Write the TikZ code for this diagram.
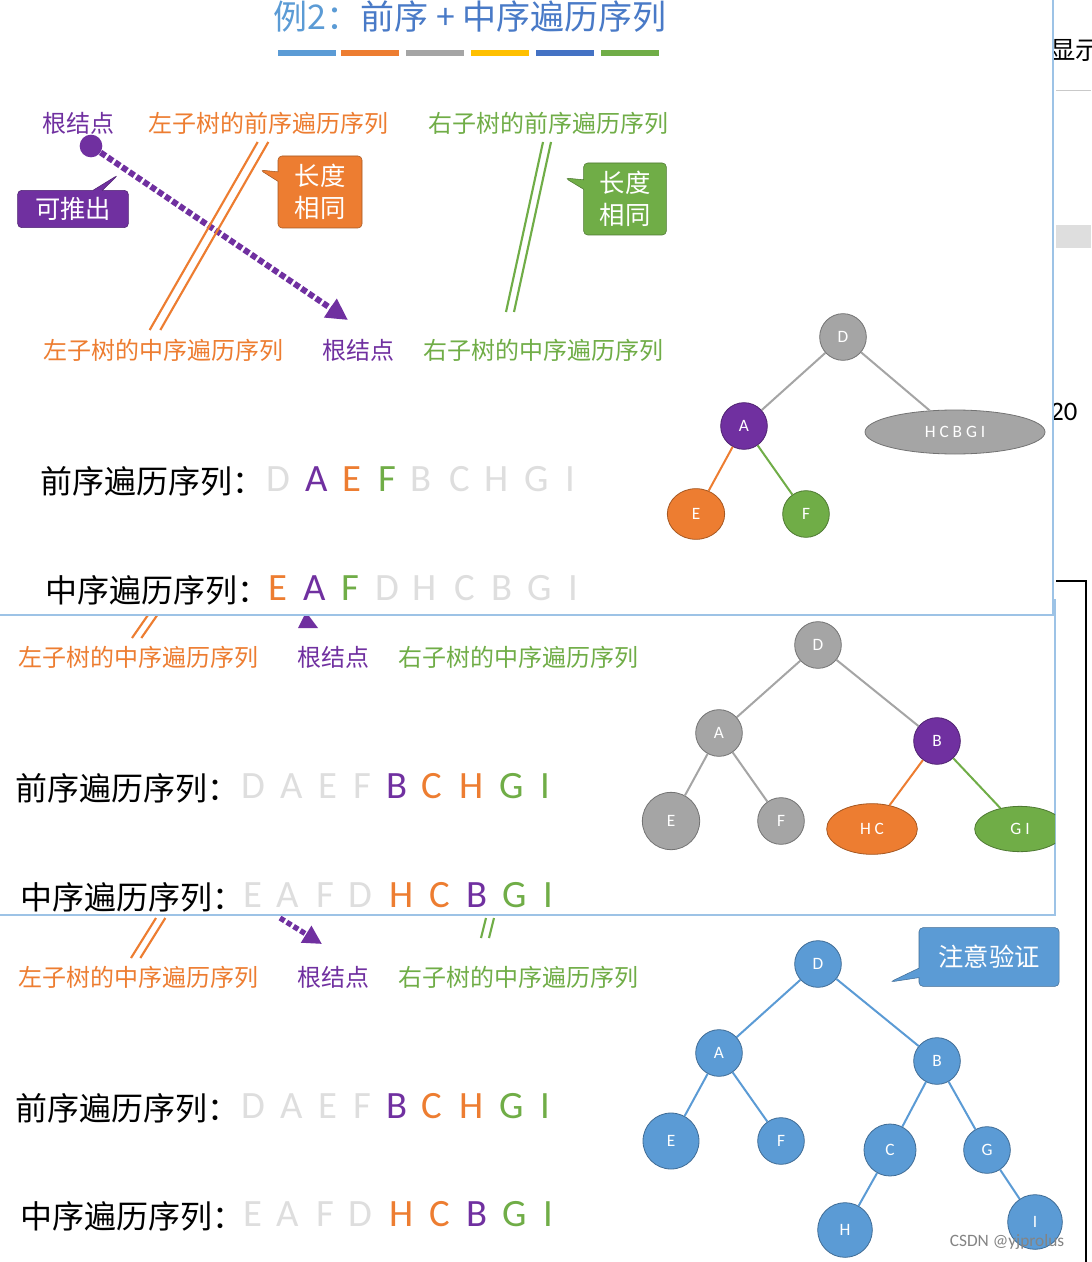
\documentclass[tikz,border=0pt]{standalone}
\usepackage{fontspec}
\setmainfont{Carlito}
\newfontfamily\cjk{Noto Sans CJK SC}
\usetikzlibrary{shapes.geometric,shapes.callouts,arrows.meta}
\definecolor{cpur}{RGB}{112,48,160}
\definecolor{cora}{RGB}{237,125,49}
\definecolor{cgre}{RGB}{112,173,71}
\definecolor{cgry}{RGB}{165,165,165}
\definecolor{clgt}{RGB}{222,222,222}
\definecolor{cblu}{RGB}{91,155,213}
\definecolor{cdbl}{RGB}{68,114,196}
\definecolor{cyel}{RGB}{255,192,0}
\tikzset{
 lab/.style={font=\cjk\fontsize{18}{20}\selectfont,inner sep=0},
 seqt/.style={font=\cjk\fontsize{24}{26}\selectfont,inner sep=0,anchor=west},
 let/.style={font=\fontsize{29}{30}\selectfont,inner sep=0},
 tn/.style={circle,minimum size=35pt,inner sep=0,font=\fontsize{13}{14}\selectfont,text=white,draw=#1!70!black,fill=#1,line width=0.6pt},
 en/.style={ellipse,inner sep=0,font=\fontsize{13}{14}\selectfont,text=white,draw=#1!70!black,fill=#1,line width=0.6pt},
 tedge/.style={line width=1.5pt},
 call/.style={rectangle callout,rounded corners=3pt,fill=#1,draw=#1!70!black,text=white,align=center,font=\cjk\fontsize{19}{21}\selectfont,inner sep=0},
 panel/.style={fill=white,draw=cblu!60,line width=1pt},
 dl/.style={line width=1.6pt},
}
\begin{document}
\begin{tikzpicture}[x=0.75pt,y=-0.75pt]
\useasboundingbox (0,0) rectangle (1091,1262);
\fill[white] (0,0) rectangle (1091,1262);
% background window on the right
\begin{scope}
\clip (1040,0) rectangle (1091,600);
\node[font=\cjk\fontsize{19}{20}\selectfont,anchor=west,inner sep=0] (bgA) at (1050,50) {显示};
\end{scope}
\draw[cgry!60] (1056,90) -- (1091,90);
\fill[clgt] (1056,225) rectangle (1091,248);
\node[font=\fontsize{20}{20}\selectfont,anchor=west,inner sep=0] (bgB) at (1050,412) {20};
\draw[line width=1.5pt] (1056,581) -- (1086,581) -- (1086,1262);
% ===== panel 3 (bottom) =====
\node[lab,text=cora] (p3l1) at (138,977) {左子树的中序遍历序列};
\node[lab,text=cpur] (p3l2) at (333,977) {根结点};
\node[lab,text=cgre] (p3l3) at (518,977) {右子树的中序遍历序列};
\coordinate (p3a) at (160,918); \coordinate (p3b) at (135,958);
\draw[cora,dl] ([xshift=-3]p3a) -- ([xshift=-3]p3b); \draw[cora,dl] ([xshift=4]p3a) -- ([xshift=4]p3b);
\coordinate (p3c) at (490,918); \coordinate (p3d) at (485,938);
\draw[cgre,dl] ([xshift=-3]p3c) -- ([xshift=-3]p3d); \draw[cgre,dl] ([xshift=3]p3c) -- ([xshift=3]p3d);
\coordinate (p3e) at (280,918); \coordinate (p3f) at (322,944);
\draw[cpur,line width=4pt,dotted,-{Triangle[length=14pt,width=14pt]}] (p3e) -- (p3f);
\node[seqt] (p3s1) at (15,1108) {前序遍历序列：};
\node[seqt] (p3s2) at (20,1216) {中序遍历序列：};
\foreach \x/\c/\t [count=\i] in {253/clgt/D,292/clgt/A,328/clgt/E,362/clgt/F,397/cpur/B,432/cora/C,472/cora/H,512/cgre/G,545/cgre/I}
  \node[let,text=\c] (p3p\i) at (\x,1106) {\t};
\foreach \x/\c/\t [count=\i] in {253/clgt/E,288/clgt/A,325/clgt/F,360/clgt/D,402/cora/H,440/cora/C,477/cpur/B,515/cgre/G,548/cgre/I}
  \node[let,text=\c] (p3m\i) at (\x,1214) {\t};
\node[tn=cblu] (bD) at (818,964) {D};
\node[tn=cblu] (bA) at (719,1053) {A};
\node[tn=cblu] (bB) at (937,1061) {B};
\node[tn=cblu,minimum size=42pt] (bE) at (671,1141) {E};
\node[tn=cblu] (bF) at (781,1141) {F};
\node[tn=cblu,minimum size=39pt] (bC) at (890,1150) {C};
\node[tn=cblu] (bG) at (987,1150) {G};
\node[tn=cblu,minimum size=41pt] (bH) at (845,1230) {H};
\node[tn=cblu,minimum size=41pt] (bI) at (1035,1222) {I};
\foreach \a/\b in {bD/bA,bD/bB,bA/bE,bA/bF,bB/bC,bB/bG,bC/bH,bG/bI}
  \draw[tedge,cblu] (\a) -- (\b);
\node[call=cblu,minimum width=105pt,minimum height=44pt,callout absolute pointer={(890,982)}] (chk) at (989,957) {注意验证};
\node[text=cgry!80!black,font=\fontsize{13}{14}\selectfont,inner sep=0] (wm) at (1007,1242) {CSDN @yjprolus};
% ===== panel 2 =====
\draw[panel] (-2,600) rectangle (1055,915);
\node[lab,text=cora] (p2l1) at (138,657) {左子树的中序遍历序列};
\node[lab,text=cpur] (p2l2) at (333,657) {根结点};
\node[lab,text=cgre] (p2l3) at (518,657) {右子树的中序遍历序列};
\coordinate (p2a) at (152,615); \coordinate (p2b) at (136,638);
\draw[cora,dl] ([xshift=-3]p2a) -- ([xshift=-3]p2b); \draw[cora,dl] ([xshift=4]p2a) -- ([xshift=4]p2b);
\fill[cpur] (298,628) -- (318,628) -- (306,612) -- cycle;
\node[seqt] (p2s1) at (15,788) {前序遍历序列：};
\node[seqt] (p2s2) at (20,897) {中序遍历序列：};
\foreach \x/\c/\t [count=\i] in {253/clgt/D,292/clgt/A,328/clgt/E,362/clgt/F,397/cpur/B,432/cora/C,472/cora/H,512/cgre/G,545/cgre/I}
  \node[let,text=\c] (p2p\i) at (\x,786) {\t};
\foreach \x/\c/\t [count=\i] in {253/clgt/E,288/clgt/A,325/clgt/F,360/clgt/D,402/cora/H,440/cora/C,477/cpur/B,515/cgre/G,548/cgre/I}
  \node[let,text=\c] (p2m\i) at (\x,895) {\t};
\node[tn=cgry] (gD) at (818,645) {D};
\node[tn=cgry] (gA) at (719,733) {A};
\node[tn=cpur] (gB) at (937,741) {B};
\node[tn=cgry,minimum size=43pt] (gE) at (671,821) {E};
\node[tn=cgry] (gF) at (781,821) {F};
\node[en=cora,minimum width=68pt,minimum height=38pt] (gHC) at (872,829) {H C};
\begin{scope}
\clip (0,600) rectangle (1055,915);
\node[en=cgre,minimum width=68pt,minimum height=34pt] (gGI) at (1020,829) {G I};
\end{scope}
\foreach \a/\b in {gD/gA,gD/gB,gA/gE,gA/gF} \draw[tedge,cgry] (\a) -- (\b);
\draw[tedge,cora] (gB) -- (gHC);
\draw[tedge,cgre] (gB) -- (gGI);
% ===== panel 1 =====
\draw[panel] (-2,-2) rectangle (1053,615);
\node[font=\cjk\fontsize{25.5}{27}\selectfont,text=cblu,inner sep=0] (title) at (470,17) {例2：\textcolor{cdbl!80!cblu}{前序 + 中序遍历序列}};
\foreach \x/\c [count=\i] in {278/cblu,341/cora,406/cgry,471/cyel,536/cdbl,601/cgre}
  \fill[\c] (\x,50) rectangle ++(58,6);
\node[lab,text=cpur] (r1) at (78,123) {根结点};
\node[lab,text=cora] (r2) at (268,123) {左子树的前序遍历序列};
\node[lab,text=cgre] (r3) at (548,123) {右子树的前序遍历序列};
\node[lab,text=cora] (r4) at (163,350) {左子树的中序遍历序列};
\node[lab,text=cpur] (r5) at (358,350) {根结点};
\node[lab,text=cgre] (r6) at (543,350) {右子树的中序遍历序列};
\node[circle,fill=cpur,minimum size=17pt,inner sep=0] (dot) at (91,146) {};
\coordinate (arrEnd) at (348,320);
\draw[cpur,line width=4.5pt,dotted,-{Triangle[length=16pt,width=16pt]}] (dot) -- (arrEnd);
\coordinate (o1) at (263,142); \coordinate (o2) at (155,330);
\draw[cora,dl] ([xshift=-4]o1) -- ([xshift=-4]o2); \draw[cora,dl] ([xshift=4]o1) -- ([xshift=4]o2);
\coordinate (g1) at (547,142); \coordinate (g2) at (510,312);
\draw[cgre,dl] ([xshift=-3]g1) -- ([xshift=-3]g2); \draw[cgre,dl] ([xshift=3]g1) -- ([xshift=3]g2);
\node[call=cpur,minimum width=83pt,minimum height=28pt,callout absolute pointer={(118,175)}] (c1) at (73,209) {可推出};
\node[call=cora,minimum width=63pt,minimum height=54pt,callout absolute pointer={(260,170)},font=\cjk\fontsize{19}{24}\selectfont] (c2) at (320,192) {长度\\相同};
\node[call=cgre,minimum width=62pt,minimum height=54pt,callout absolute pointer={(565,178)},font=\cjk\fontsize{19}{24}\selectfont] (c3) at (625,199) {长度\\相同};
\node[seqt] (p1s1) at (40,481) {前序遍历序列：};
\node[seqt] (p1s2) at (45,590) {中序遍历序列：};
\foreach \x/\c/\t [count=\i] in {278/clgt/D,317/cpur/A,352/cora/E,387/cgre/F,421/clgt/B,460/clgt/C,497/clgt/H,537/clgt/G,570/clgt/I}
  \node[let,text=\c] (p1p\i) at (\x,479) {\t};
\foreach \x/\c/\t [count=\i] in {278/cora/E,315/cpur/A,350/cgre/F,387/clgt/D,425/clgt/H,465/clgt/C,502/clgt/B,540/clgt/G,573/clgt/I}
  \node[let,text=\c] (p1m\i) at (\x,588) {\t};
\node[tn=cgry] (tD) at (843,337) {D};
\node[tn=cpur] (tA) at (744,426) {A};
\node[en=cgry,minimum width=135pt,minimum height=33pt] (tR) at (955,432) {H C B G I};
\node[en=cora,minimum width=43pt,minimum height=38pt] (tE) at (696,514) {E};
\node[tn=cgre] (tF) at (806,514) {F};
\draw[tedge,cgry] (tD) -- (tA); \draw[tedge,cgry] (tD) -- (tR);
\draw[tedge,cora] (tA) -- (tE); \draw[tedge,cgre] (tA) -- (tF);
\end{tikzpicture}
\end{document}
